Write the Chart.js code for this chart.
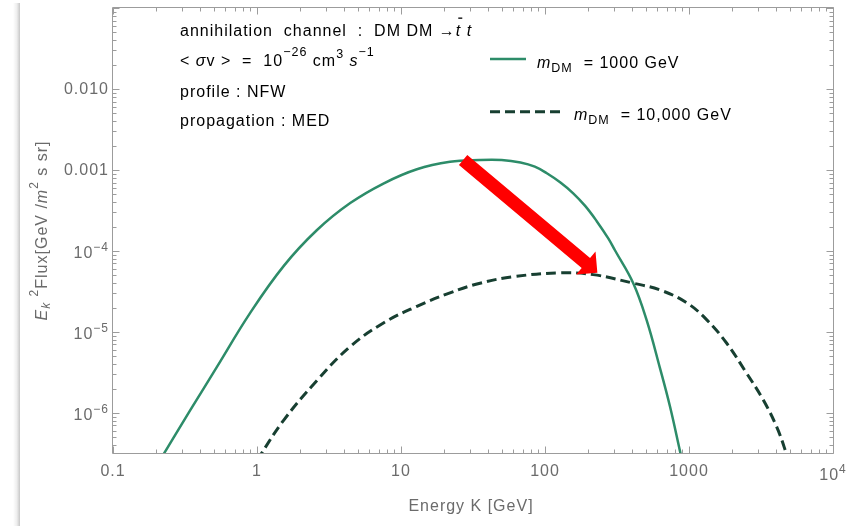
<!DOCTYPE html>
<html>
<head>
<meta charset="utf-8">
<title>DM annihilation flux</title>
<script src="https://cdn.jsdelivr.net/npm/chart.js@4.4.1/dist/chart.umd.min.js"></script>
<style>
  html, body { margin: 0; padding: 0; background: #fff; }
  #wrap { position: relative; width: 858px; height: 526px; }
  #edge { position: absolute; left: 13px; top: 3px; bottom: 0; width: 7px;
          background: linear-gradient(to right, rgba(0,0,0,0), rgba(0,0,0,0.07) 55%, rgba(0,0,0,0.22)); }
  canvas { position: absolute; left: 0; top: 0; }
</style>
</head>
<body>
<div id="wrap">
  <div id="edge"></div>
  <canvas id="fluxChart" width="858" height="526"></canvas>
</div>
<script>
// kinetic energy (GeV) and E^2 flux, m_DM = 1000 GeV
const energy1000 = [0.2, 0.344, 0.527, 0.897, 1.53, 2.6, 4.44, 7.55, 12.9, 21.9, 35, 50,
                    67.6, 85, 103, 128, 157, 190, 228, 275, 306, 410, 508, 628, 738, 865, 950];
const flux1000 = [2.2e-7, 1.08e-6, 3.7e-6, 1.72e-5, 6.5e-5, 1.8e-4, 3.9e-4, 6.8e-4, 1.02e-3, 1.26e-3, 1.33e-3, 1.33e-3,
                  1.24e-3, 1.1e-3, 9.1e-4, 7.0e-4, 5.15e-4, 3.6e-4, 2.35e-4, 1.43e-4, 1.02e-4, 4.0e-5, 1.4e-5, 3.6e-6, 1.2e-6, 3.4e-7, 1.6e-7];

// same for the dashed curve, m_DM = 10,000 GeV
const energy10000 = [1.0, 1.53, 2.6, 4.44, 7.55, 12.9, 21.9, 35.4, 60, 127, 216, 410, 628, 961, 1324, 1823, 2510, 3275, 4053, 4700, 5200];
const flux10000 = [2.6e-7, 8.1e-7, 2.5e-6, 6.6e-6, 1.29e-5, 2.07e-5, 3.04e-5, 4.0e-5, 4.8e-5, 5.37e-5, 5.1e-5, 4.0e-5, 3.3e-5, 2.3e-5, 1.42e-5, 7.3e-6, 3.1e-6, 1.45e-6, 6.8e-7, 3.3e-7, 1.8e-7];

const seriesNames = ['m_DM = 1000 GeV', 'm_DM = 10,000 GeV'];

// axis ticks ('^' marks a superscript)
const xTickValues = [0.1, 1, 10, 100, 1000, 10000];
const xTickLabels = ['0.1', '1', '10', '100', '1000', '10^4'];
const yTickValues = [1e-6, 1e-5, 1e-4, 1e-3, 1e-2];
const yTickLabels = ['10^\u22126', '10^\u22125', '10^\u22124', '0.001', '0.010'];

// red arrow, tail -> tip, in data units
const arrowFrom = [27, 1.33e-3];
const arrowTo = [231, 5.4e-5];

const FONT = '"Liberation Sans", Arial, Helvetica, sans-serif';
const GREY = '#6b6b6b';

function segFont(s) {
  const size = s.size || ((s.sup || s.sub) ? 12 : 16);
  return (s.i ? 'italic ' : '') + size + 'px ' + FONT;
}

// draws a run of text pieces (italic, sub, sup) on one baseline
function drawRich(ctx, segs, x, y, align) {
  ctx.save();
  ctx.letterSpacing = '1px';
  ctx.textBaseline = 'alphabetic';
  ctx.textAlign = 'left';
  const widths = segs.map(s => { ctx.font = segFont(s); return ctx.measureText(s.t).width; });
  const total = widths.reduce((a, b) => a + b, 0);
  let cx = align === 'center' ? x - total / 2 : align === 'right' ? x - total : x;
  segs.forEach((s, k) => {
    ctx.font = segFont(s);
    const dy = s.sup ? -(s.up || 8) : s.sub ? (s.down || 3.5) : 0;
    ctx.fillText(s.t, cx, y + dy);
    if (s.bar) ctx.fillRect(cx + 2.5, y - 18.5, 4, 1.3);
    cx += widths[k];
  });
  ctx.restore();
}

function parseLabel(str, up) {
  const parts = str.split('^');
  const segs = [{ t: parts[0] }];
  if (parts[1]) segs.push({ t: parts[1], sup: true, up: up });
  return segs;
}

const decorations = {
  id: 'decorations',
  afterDatasetsDraw(chart) {
    const { ctx, chartArea: a, scales: { x, y } } = chart;

    // arrow
    const p0x = x.getPixelForValue(arrowFrom[0]), p0y = y.getPixelForValue(arrowFrom[1]);
    const p1x = x.getPixelForValue(arrowTo[0]), p1y = y.getPixelForValue(arrowTo[1]);
    const len = Math.hypot(p1x - p0x, p1y - p0y);
    const ux = (p1x - p0x) / len, uy = (p1y - p0y) / len, nx = -uy, ny = ux;
    const head = 15, half = 15, w = 6.5;
    const bx = p1x - ux * head, by = p1y - uy * head;
    ctx.save();
    ctx.fillStyle = '#ff0000';
    ctx.beginPath();
    ctx.moveTo(p0x + nx * w, p0y + ny * w);
    ctx.lineTo(bx + nx * w, by + ny * w);
    ctx.lineTo(bx + nx * half, by + ny * half);
    ctx.lineTo(p1x, p1y);
    ctx.lineTo(bx - nx * half, by - ny * half);
    ctx.lineTo(bx - nx * w, by - ny * w);
    ctx.lineTo(p0x - nx * w, p0y - ny * w);
    ctx.closePath();
    ctx.fill();
    ctx.restore();

    // frame with inward ticks on all four sides
    const L = a.left - 0.5, R = a.right + 0.5, T = a.top - 0.5, B = a.bottom + 0.5;
    ctx.save();
    ctx.strokeStyle = '#9c9c9c';
    ctx.lineWidth = 1;
    ctx.beginPath();
    ctx.rect(L, T, R - L, B - T);
    for (let e = -1; e <= 4; e++) {
      for (let k = 1; k < 10; k++) {
        const v = k * Math.pow(10, e);
        if (v > x.max * 1.0001) break;
        const px = Math.round(x.getPixelForValue(v)) + 0.5;
        const tl = k === 1 ? 7 : 4;
        ctx.moveTo(px, B); ctx.lineTo(px, B - tl);
        ctx.moveTo(px, T); ctx.lineTo(px, T + tl);
      }
    }
    for (let e = -7; e <= -1; e++) {
      for (let k = 1; k < 10; k++) {
        const v = k * Math.pow(10, e);
        if (v < y.min || v > y.max * 1.0001) continue;
        const py = Math.round(y.getPixelForValue(v)) + 0.5;
        const tl = k === 1 ? 7 : 4;
        ctx.moveTo(L, py); ctx.lineTo(L + tl, py);
        ctx.moveTo(R, py); ctx.lineTo(R - tl, py);
      }
    }
    ctx.stroke();
    ctx.restore();

    // tick labels
    ctx.save();
    ctx.fillStyle = GREY;
    x.ticks.forEach((t, k) => {
      const lab = t.label || xTickLabels[k];
      const sup = lab.indexOf('^') >= 0;
      drawRich(ctx, parseLabel(lab, 7), x.getPixelForValue(t.value), a.bottom + (sup ? 26.5 : 23), 'center');
    });
    y.ticks.forEach((t, k) => {
      const lab = t.label || yTickLabels[k];
      const sup = lab.indexOf('^') >= 0;
      const py = y.getPixelForValue(t.value);
      drawRich(ctx, parseLabel(lab, 6.6), a.left - 4, py + (sup ? 6.6 : 5), 'right');
    });

    // axis titles
    drawRich(ctx, [{ t: 'Energy K [GeV]' }], (a.left + a.right) / 2 - 2, 511, 'center');
    ctx.translate(46.5, (a.top + a.bottom) / 2);
    ctx.rotate(-Math.PI / 2);
    drawRich(ctx, [
      { t: 'E', i: true }, { t: 'k', i: true, sub: true }, { t: ' ' }, { t: '2', sup: true, up: 9 },
      { t: 'Flux[GeV /' }, { t: 'm', i: true }, { t: '2', sup: true, up: 9 }, { t: ' s sr]' }
    ], 0, 0, 'center');
    ctx.restore();

    // annotation block
    ctx.save();
    ctx.fillStyle = '#000';
    drawRich(ctx, [
      { t: 'annihilation  channel  :  DM DM \u2192' }, { t: 't', i: true, bar: true }, { t: ' ' }, { t: 't', i: true }
    ], 180, 36, 'left');
    drawRich(ctx, [
      { t: '< ' }, { t: '\u03c3', i: true }, { t: 'v >  =  10' }, { t: '\u221226', sup: true, up: 10, size: 12.5 },
      { t: ' cm' }, { t: '3', sup: true, up: 8, size: 12.5 }, { t: ' ' }, { t: 's', i: true }, { t: '\u22121', sup: true, up: 10, size: 12.5 }
    ], 180, 65.5, 'left');
    drawRich(ctx, [{ t: 'profile : NFW' }], 180, 97, 'left');
    drawRich(ctx, [{ t: 'propagation : MED' }], 180, 126, 'left');

    // legend
    const rows = [{ y: 59, x1: 526, tx: 537, ty: 68.3 }, { y: 111.7, x1: 560, tx: 574, ty: 120 }];
    chart.data.datasets.forEach((ds, k) => {
      const r = rows[k];
      ctx.save();
      ctx.strokeStyle = ds.borderColor;
      ctx.lineWidth = ds.borderWidth;
      ctx.setLineDash(ds.borderDash || []);
      ctx.beginPath();
      ctx.moveTo(490, r.y);
      ctx.lineTo(r.x1, r.y);
      ctx.stroke();
      ctx.restore();
      const parts = ds.label.split('_');
      const rest = parts[1].split(' ');
      drawRich(ctx, [
        { t: parts[0], i: true }, { t: rest[0], sub: true, size: 12.5 }, { t: '  ' + rest.slice(1).join(' ') }
      ], r.tx, r.ty, 'left');
    });
    ctx.restore();
  }
};

const ctx = document.getElementById('fluxChart').getContext('2d');

new Chart(ctx, {
  type: 'line',
  data: {
    datasets: [{
      label: seriesNames[0],
      data: energy1000.map((e, k) => ({ x: e, y: flux1000[k] })),
      borderColor: '#2d8c69',
      borderWidth: 2.5,
      tension: 0.4,
      clip: 0
    }, {
      label: seriesNames[1],
      data: energy10000.map((e, k) => ({ x: e, y: flux10000[k] })),
      borderColor: '#173f31',
      borderWidth: 3,
      borderDash: [10, 5],
      tension: 0.4,
      clip: 0
    }]
  },
  options: {
    responsive: false,
    animation: false,
    events: [],
    layout: { padding: { left: 0, right: 25, top: 8, bottom: 0 } },
    elements: { point: { radius: 0 } },
    plugins: { legend: { display: false }, tooltip: { enabled: false } },
    scales: {
      x: {
        type: 'logarithmic',
        min: 0.1,
        max: 10000,
        grid: { display: false },
        border: { display: false },
        ticks: { display: false, callback: (v, k) => xTickLabels[k] },
        afterBuildTicks: s => { s.ticks = xTickValues.map(v => ({ value: v })); },
        afterFit: s => { s.height = 73; }
      },
      y: {
        type: 'logarithmic',
        min: 3.2e-7,
        max: 0.1,
        grid: { display: false },
        border: { display: false },
        ticks: { display: false, callback: (v, k) => yTickLabels[k] },
        afterBuildTicks: s => { s.ticks = yTickValues.map(v => ({ value: v })); },
        afterFit: s => { s.width = 113; }
      }
    }
  },
  plugins: [decorations]
});
</script>
</body>
</html>
